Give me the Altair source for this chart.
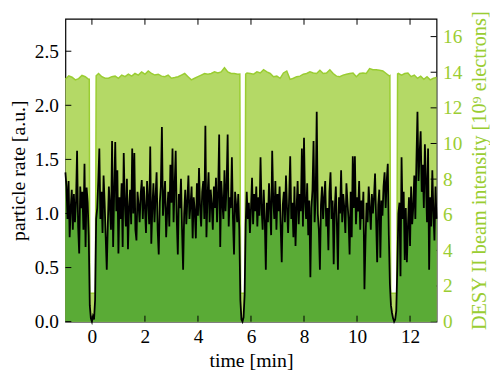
import altair as alt
import pandas as pd

# ---------------- data ----------------
# particle rate [a.u.], sampled every 0.04 min starting at t = -1.00 min
RATE_T0 = -1.0
RATE_DT = 0.04
rate_seg_a = [1.38, 1.25, 0.95, 1.30, 0.78, 1.05, 1.22, 0.85, 1.18, 0.92,
              1.10, 1.58, 0.88, 0.63, 1.25, 1.05, 1.20, 0.85, 1.46, 0.69, 1.24, 1.10]
rate_gap_1 = [0.80, 0.15, 0.03, 0.00, 0.05, 0.02, 0.20, 0.95]
rate_seg_b = [1.05, 1.30, 1.60, 0.95, 1.20, 0.82, 1.35, 1.10, 0.78, 0.48,
              0.90, 1.25, 1.05, 0.85, 1.67, 0.69, 1.20, 1.66, 1.02, 1.40,
              0.63, 1.15, 0.95, 1.28, 0.69, 1.56, 1.10, 0.88, 1.32, 0.67,
              1.05, 1.22, 0.90, 1.60, 1.00, 1.56, 0.85, 0.75, 1.20, 1.08,
              0.92, 1.18, 1.31, 0.95, 1.25, 1.05, 0.82, 1.30, 1.12, 0.90,
              1.62, 0.72, 1.05, 1.28, 0.92, 1.15, 1.38, 0.85, 0.62, 1.10,
              1.25, 1.80, 0.98, 1.15, 1.30, 0.78, 1.02, 1.20, 0.88, 1.45,
              1.10, 1.60, 0.92, 1.25, 1.58, 0.95, 0.62, 1.18, 1.05, 1.32,
              0.85, 0.48, 1.00, 1.22, 0.90, 1.12, 1.35, 0.95, 1.08, 1.25,
              0.77, 1.15, 1.02, 0.77, 1.28, 0.98, 1.42, 1.05, 0.88, 1.20,
              1.30, 0.95, 1.81, 0.78, 1.15, 1.38, 0.92, 1.22, 1.08, 0.85,
              1.25, 1.05, 1.33, 0.92, 1.18, 1.73, 0.69, 1.30, 1.10, 0.95,
              1.40, 1.02, 1.25, 1.73, 0.88, 1.15, 1.05, 1.52, 0.95, 0.62,
              1.20, 1.08, 0.92, 1.18]
rate_gap_2 = [0.85, 0.20, 0.02, 0.00, 0.04, 0.25, 0.90]
rate_seg_c = [1.20, 0.95, 1.10, 0.82, 1.05, 1.33, 0.90, 1.18, 1.02, 1.25,
              0.88, 1.15, 0.98, 1.52, 1.05, 0.85, 1.22, 0.95, 0.48, 1.10,
              0.92, 1.28, 1.05, 0.80, 1.58, 1.12, 0.95, 1.30, 0.85, 1.18,
              1.02, 1.25, 0.88, 0.55, 1.08, 1.20, 0.92, 1.35, 1.05, 0.82,
              1.15, 1.53, 0.95, 1.10, 0.78, 1.25, 0.70, 1.05, 1.30, 0.90,
              1.18, 1.02, 1.60, 0.88, 1.70, 1.10, 0.95, 1.28, 0.80, 1.12,
              0.41, 1.05, 1.22, 1.67, 0.92, 1.15, 1.94, 1.00, 0.85, 0.48,
              1.08, 1.25, 0.95, 1.15, 1.30, 0.88, 1.05, 0.66, 1.20, 1.38,
              0.95, 1.12, 0.53, 1.05, 1.25, 0.90, 0.48, 1.15, 1.00, 1.40,
              0.92, 1.18, 1.05, 0.82, 1.28, 1.10, 0.95, 0.62, 1.20, 0.78,
              1.53, 1.05, 1.53, 0.90, 1.15, 1.02, 1.30, 0.85, 1.12, 0.95,
              1.20, 0.30, 0.75, 1.10, 0.92, 1.25, 1.05, 0.85, 1.18, 1.00,
              1.15, 1.37, 0.95, 0.55, 1.08, 1.22, 0.59, 1.12, 0.98, 1.25,
              1.38, 1.05, 1.30, 1.46]
rate_gap_3 = [0.80, 0.35, 0.15, 0.08, 0.03, 0.00, 0.02, 0.10, 0.50, 1.00]
rate_seg_d = [1.10, 0.42, 1.52, 0.95, 1.20, 0.57, 1.05, 0.55, 0.88, 1.15,
              0.70, 1.25, 0.90, 1.05, 1.35, 0.95, 1.48, 1.94, 1.30, 1.55,
              1.76, 1.20, 1.45, 1.05, 1.64, 1.30, 0.92, 1.60, 0.48, 1.15,
              0.88, 1.40, 1.02, 0.75, 1.25, 0.95]

# DESY II beam intensity [10^9 electrons]: segments (start, step, values) and gap points
beam_seg_a = (-1.0, 0.125, [13.60, 13.80, 13.72, 13.57, 13.64, 13.82, 13.75, 13.60])
beam_seg_b = (0.25, 0.125, [13.93, 13.75, 13.66, 13.66, 13.75, 13.78, 13.66, 13.84, 13.75, 13.89,
                            13.78, 13.93, 13.84, 14.02, 13.89, 14.07, 13.93, 13.84, 13.89, 13.78,
                            13.75, 13.84, 13.66, 13.70, 13.75, 13.84, 13.93, 13.75, 13.57, 13.66,
                            13.75, 13.84, 13.93, 13.89, 13.93, 14.02, 13.96, 14.02, 14.25, 14.02,
                            13.93, 13.93, 13.89])
beam_seg_c = (5.85, 0.125, [13.96, 13.93, 13.89, 14.02, 13.96, 14.14, 14.02, 13.93, 13.75, 13.78,
                            13.66, 13.96, 14.07, 13.60, 13.66, 13.75, 13.78, 13.89, 13.93, 14.02,
                            13.96, 13.93, 14.11, 13.93, 13.96, 14.14, 13.93, 13.78, 13.75, 13.84,
                            13.89, 13.93, 13.96, 13.75, 13.93, 13.96, 13.93, 14.20, 14.14, 14.14,
                            14.11, 14.07, 13.93, 13.78])
beam_seg_d = (11.56, 0.12, [13.93, 13.84, 13.93, 13.96, 13.75, 13.84, 13.66, 13.78, 13.60, 13.75,
                            13.57, 13.66, 13.70])
beam_gap_t = [-0.10, -0.08, 0.13, 0.16, 5.58, 5.61, 5.77, 5.80, 11.24, 11.27, 11.50, 11.53]
beam_gap_v = [13.60, 1.60, 1.60, 13.80, 13.90, 1.60, 1.60, 13.90, 13.80, 1.60, 1.60, 13.90]

x_ticks = [0, 2, 4, 6, 8, 10, 12]
rate_ticks = [0.0, 0.5, 1.0, 1.5, 2.0, 2.5]
beam_ticks = [0, 2, 4, 6, 8, 10, 12, 14, 16]

# ---------------- tables ----------------
rate_vals = rate_seg_a + rate_gap_1 + rate_seg_b + rate_gap_2 + rate_seg_c + rate_gap_3 + rate_seg_d
rate_df = pd.DataFrame({
    "t": [round(RATE_T0 + RATE_DT * i, 4) for i in range(len(rate_vals))],
    "rate": rate_vals,
})

bt, bv = [], []
for start, step, vals in (beam_seg_a, beam_seg_b, beam_seg_c, beam_seg_d):
    bt += [round(start + step * i, 4) for i in range(len(vals))]
    bv += vals
bt += beam_gap_t
bv += beam_gap_v
beam_df = pd.DataFrame({"t": bt, "beam": bv}).sort_values("t")

W, H = 375, 306
FONT = "Liberation Serif, Times New Roman, serif"
LIGHT = "#b4d966"
LINEGREEN = "#9acd32"
DARK = "#5aab36"
TICK = 6
LFS = 19.5  # tick label font size
TFS = 20    # axis title font size

xscale = alt.Scale(domain=[-1, 13], nice=False, zero=False)
rscale = alt.Scale(domain=[0, 2.8], nice=False)
bscale = alt.Scale(domain=[0, 17], nice=False)

xaxis = alt.Axis(values=x_ticks, title="time [min]", ticks=False, domain=False, grid=False,
                 labelPadding=6, titlePadding=5, labelFontSize=LFS, titleFontSize=TFS,
                 labelFont=FONT, titleFont=FONT, labelColor="black", titleColor="black",
                 titleFontWeight="normal", labelFlush=False)
baxis = alt.Axis(orient="right", values=beam_ticks, format="d",
                 title="DESY II beam intensity [10⁹ electrons]",
                 ticks=False, domain=False, grid=False, labelPadding=6,
                 titlePadding=8, titleAngle=270, titleBaseline="top",
                 labelFontSize=LFS, titleFontSize=20.5, labelFont=FONT, titleFont=FONT,
                 labelColor=LINEGREEN, titleColor=LINEGREEN,
                 titleFontWeight="normal", labelFlush=False)
raxis = alt.Axis(orient="left", values=rate_ticks, format=".1f",
                 title="particle rate [a.u.]", ticks=False, domain=False, grid=False,
                 labelPadding=7, titlePadding=6, labelFontSize=LFS, titleFontSize=TFS,
                 labelFont=FONT, titleFont=FONT, labelColor="black", titleColor="black",
                 titleFontWeight="normal", labelFlush=False)

beam_area = alt.Chart(beam_df).mark_area(
    color=LIGHT, opacity=1, line={"color": LINEGREEN, "strokeWidth": 1.5}
).encode(
    x=alt.X("t:Q", scale=xscale, axis=xaxis),
    y=alt.Y("beam:Q", scale=bscale, axis=baxis),
)

beam_tick_df = pd.DataFrame({"v": beam_ticks})
beam_tick_layer = alt.Chart(beam_tick_df).mark_rule(color="black", strokeWidth=1).encode(
    y=alt.Y("v:Q", scale=bscale, axis=baxis),
    x=alt.value(W),
    x2=alt.value(W - TICK),
)

beam_layer = alt.layer(beam_area, beam_tick_layer)

rate_area = alt.Chart(rate_df).mark_area(
    color=DARK, opacity=1, line={"color": "black", "strokeWidth": 1.8}
).encode(
    x=alt.X("t:Q", scale=xscale, axis=xaxis),
    y=alt.Y("rate:Q", scale=rscale, axis=raxis),
)

rate_tick_df = pd.DataFrame({"v": rate_ticks})
rate_tick_layer = alt.Chart(rate_tick_df).mark_rule(color="black", strokeWidth=1).encode(
    y=alt.Y("v:Q", scale=rscale, axis=raxis),
    x=alt.value(0),
    x2=alt.value(TICK),
)

x_tick_df = pd.DataFrame({"v": x_ticks})
x_bottom = alt.Chart(x_tick_df).mark_rule(color="black", strokeWidth=1).encode(
    x=alt.X("v:Q", scale=xscale, axis=xaxis),
    y=alt.value(H),
    y2=alt.value(H - TICK),
)
x_top = alt.Chart(x_tick_df).mark_rule(color="black", strokeWidth=1).encode(
    x=alt.X("v:Q", scale=xscale, axis=xaxis),
    y=alt.value(0),
    y2=alt.value(TICK),
)

rate_layer = alt.layer(rate_area, rate_tick_layer, x_bottom, x_top)

chart = alt.layer(beam_layer, rate_layer).resolve_scale(y="independent").properties(
    width=W, height=H, padding=0, background="white"
).configure_view(stroke="black", strokeWidth=1.2)

chart.save("out.html", embed_options={"renderer": "svg", "actions": False})
